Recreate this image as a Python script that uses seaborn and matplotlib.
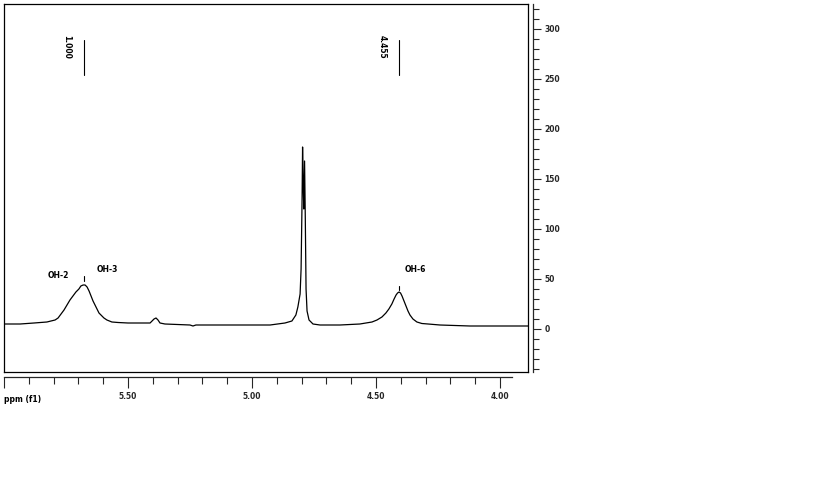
import numpy as np
import pandas as pd
import matplotlib
matplotlib.use("Agg")
import matplotlib.pyplot as plt
from matplotlib.ticker import MultipleLocator, FormatStrFormatter
import seaborn as sns

# spectrum points (ppm, intensity)
ppm = [6.000, 5.935, 5.879, 5.827, 5.794, 5.782, 5.770, 5.758, 5.746, 5.734,
       5.722, 5.710, 5.698, 5.690, 5.681, 5.677, 5.673, 5.665, 5.657, 5.649,
       5.641, 5.633, 5.625, 5.617, 5.609, 5.597, 5.585, 5.565, 5.540, 5.500,
       5.452, 5.411, 5.403, 5.395, 5.387, 5.379, 5.371, 5.351, 5.250, 5.238,
       5.226, 5.048, 4.927, 4.867, 4.839, 4.823, 4.815, 4.806, 4.802, 4.798,
       4.796, 4.793, 4.791, 4.788, 4.785, 4.782, 4.778, 4.770, 4.754, 4.726,
       4.645, 4.565, 4.516, 4.496, 4.476, 4.460, 4.448, 4.436, 4.427, 4.419,
       4.413, 4.407, 4.401, 4.395, 4.387, 4.379, 4.371, 4.363, 4.351, 4.335,
       4.315, 4.290, 4.242, 4.121, 3.887]
intensity = [5, 5, 6, 7, 9, 11, 15, 19, 24, 29,
             33, 37, 40, 43, 44, 44, 44, 42, 38, 33,
             28, 24, 20, 16, 14, 11, 9, 7, 6.5, 6,
             6, 6, 8, 10, 11, 9, 6, 5, 4, 3,
             4, 4, 4, 6, 8, 14, 22, 35, 60, 130,
             182, 140, 120, 168, 110, 40, 18, 9, 5, 4,
             4, 5, 7, 9, 12, 16, 20, 25, 30, 34,
             36, 37, 36, 33, 28, 23, 18, 14, 10, 7,
             5.5, 5, 4, 3, 3]

peak_labels = ["OH-2", "OH-3", "OH-6"]
peak_label_ppm = [5.782, 5.585, 4.343]
peak_label_y = [54, 59, 59]
peak_marks_ppm = [5.677, 4.407]
peak_marks_y = [(48, 53), (39, 43)]

integral_ppm = [5.677, 4.407]
integral_text = ["1.000", "4.455"]

X_LEFT, X_RIGHT = 6.0, 3.887
Y_LOW, Y_HIGH = -43, 325

df = pd.DataFrame({"ppm": ppm, "intensity": intensity})

sns.set_style("white")
plt.rcParams["font.family"] = ["DejaVu Sans"]

W, H = 819, 499
fig = plt.figure(figsize=(W / 100, H / 100), dpi=100)
fig.patch.set_facecolor("white")

# main framed plot area
ax = fig.add_axes([4 / W, (H - 372) / H, 524 / W, 368 / H])
sns.lineplot(data=df, x="ppm", y="intensity", ax=ax, color="black",
             linewidth=0.9, estimator=None, sort=False)
ax.set_xlim(X_LEFT, X_RIGHT)
ax.set_ylim(Y_LOW, Y_HIGH)
ax.set_xticks([])
ax.set_yticks([])
ax.set_xlabel("")
ax.set_ylabel("")
for s in ax.spines.values():
    s.set_visible(True)
    s.set_color("black")
    s.set_linewidth(0.9)

small = dict(fontsize=5.5, fontweight="bold", color="black")

for lab, x, y in zip(peak_labels, peak_label_ppm, peak_label_y):
    ax.text(x, y, lab, ha="center", va="center", **small)
for x, (y0, y1) in zip(peak_marks_ppm, peak_marks_y):
    ax.plot([x, x], [y0, y1], color="black", linewidth=0.8)

for x, t in zip(integral_ppm, integral_text):
    ax.plot([x, x], [254, 289], color="black", linewidth=0.8)
    ax.text(x + 0.069, 294, t, rotation=-90, ha="center", va="top", **small)

# separate ppm scale below the frame
axb = fig.add_axes([4 / W, (H - 377) / H, 508 / W, 0.0001])
axb.set_xlim(X_LEFT, X_LEFT - 508 / 248)
axb.set_yticks([])
axb.set_facecolor("none")
for name, s in axb.spines.items():
    s.set_visible(name == "bottom")
axb.spines["bottom"].set_linewidth(0.9)
axb.xaxis.set_major_locator(MultipleLocator(0.5))
axb.xaxis.set_minor_locator(MultipleLocator(0.1))
axb.xaxis.set_major_formatter(FormatStrFormatter("%.2f"))
axb.tick_params(axis="x", which="major", bottom=True, direction="out",
                length=8, width=0.8, labelsize=5.5, pad=3)
axb.tick_params(axis="x", which="minor", bottom=True, direction="out",
                length=5, width=0.8)
axb.set_xticks([6.0, 5.5, 5.0, 4.5, 4.0])
axb.set_xticklabels(["", "5.50", "5.00", "4.50", "4.00"], fontweight="bold")

# separate intensity scale at the right
axr = fig.add_axes([533 / W, (H - 372) / H, 0.0001, 368 / H])
axr.set_ylim(Y_LOW, Y_HIGH)
axr.set_xticks([])
axr.set_facecolor("none")
for name, s in axr.spines.items():
    s.set_visible(name == "right")
axr.spines["right"].set_linewidth(0.9)
axr.yaxis.tick_right()
axr.yaxis.set_major_locator(MultipleLocator(50))
axr.yaxis.set_minor_locator(MultipleLocator(10))
axr.tick_params(axis="y", which="major", right=True, direction="out",
                length=6, width=0.8, labelsize=5.5, pad=2)
axr.tick_params(axis="y", which="minor", right=True, direction="out",
                length=4, width=0.8)
axr.set_yticks(list(range(0, 301, 50)))
axr.set_yticklabels([str(v) for v in range(0, 301, 50)], fontweight="bold")

fig.text(4 / W, (H - 400) / H, "ppm (f1)", ha="left", va="center", **small)

fig.savefig("out.png", dpi=100)
